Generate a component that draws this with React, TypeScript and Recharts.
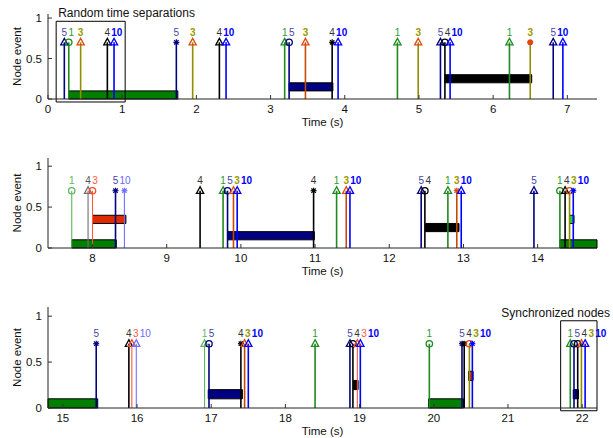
import React from "react";
import {
  ComposedChart,
  XAxis,
  YAxis,
  Scatter,
  ReferenceLine,
  ReferenceArea,
} from "recharts";

// [time, node, marker, tone]  tone: n normal, l light, w warm
type Ev = [number, number, string, string];
// [start, end, node, alt]
type Seg = [number, number, number, string?];

const p1Events: Ev[] = [
  [0.22, 5, "tri", "n"], [0.28, 1, "circ", "n"], [0.44, 3, "tri", "n"], [0.8, 4, "tri", "n"], [0.89, 10, "tri", "n"],
  [1.73, 5, "star", "n"], [1.95, 3, "tri", "n"], [2.31, 4, "tri", "n"], [2.4, 10, "tri", "n"],
  [3.19, 1, "tri", "n"], [3.25, 5, "circ", "n"], [3.47, 3, "tri", "w"], [3.83, 4, "star", "n"], [3.91, 10, "tri", "n"],
  [4.71, 1, "tri", "n"], [4.99, 3, "tri", "n"], [5.29, 5, "tri", "n"], [5.35, 4, "circ", "n"], [5.42, 10, "tri", "n"],
  [6.22, 1, "tri", "n"], [6.5, 3, "dot", "n"], [6.81, 5, "tri", "n"], [6.94, 10, "tri", "n"],
];

const p2Events: Ev[] = [
  [7.72, 1, "circ", "l"], [7.94, 4, "tri", "l"], [8.0, 3, "circ", "l"], [8.31, 5, "star", "n"], [8.43, 10, "star", "l"],
  [9.45, 4, "tri", "n"], [9.76, 1, "tri", "n"], [9.82, 5, "circ", "n"], [9.9, 3, "tri", "w"], [9.95, 10, "tri", "n"],
  [10.98, 4, "star", "n"], [11.29, 1, "tri", "n"], [11.42, 3, "tri", "w"], [11.47, 10, "tri", "n"],
  [12.43, 5, "tri", "n"], [12.48, 4, "circ", "n"], [12.79, 1, "tri", "n"], [12.91, 3, "star", "w"], [12.97, 10, "tri", "n"],
  [13.95, 5, "tri", "n"], [14.3, 1, "circ", "n"], [14.37, 4, "tri", "n"], [14.43, 3, "circ", "n"], [14.48, 10, "star", "n"],
];

const p3Events: Ev[] = [
  [15.45, 5, "star", "n"], [15.89, 4, "tri", "n"], [15.93, 3, "tri", "l"], [15.99, 10, "tri", "l"],
  [16.91, 1, "tri", "l"], [16.97, 5, "circ", "n"], [17.4, 4, "star", "n"], [17.45, 3, "tri", "w"], [17.5, 10, "tri", "n"],
  [18.4, 1, "tri", "n"], [18.87, 5, "tri", "n"], [18.91, 4, "circ", "n"], [18.97, 3, "tri", "l"], [19.01, 10, "tri", "n"],
  [19.94, 1, "circ", "n"], [20.38, 5, "star", "n"], [20.41, 4, "star", "n"], [20.48, 3, "circ", "n"], [20.52, 10, "star", "n"],
  [21.84, 1, "tri", "n"], [21.89, 5, "circ", "n"], [21.94, 4, "circ", "n"], [21.99, 3, "tri", "n"], [22.04, 10, "tri", "n"],
];

const p1Bars: Seg[] = [[0.28, 1.75, 1], [3.25, 3.84, 5], [5.35, 6.52, 4]];
const p2Bars: Seg[] = [
  [7.72, 8.32, 1], [8.0, 8.45, 3], [9.82, 10.99, 5], [12.49, 12.94, 4], [14.3, 14.8, 1], [14.43, 14.49, 3, "g"],
];
const p3Bars: Seg[] = [
  [14.8, 15.47, 1], [16.96, 17.42, 5], [18.92, 18.98, 4], [19.93, 20.4, 1], [20.47, 20.53, 3], [21.88, 21.95, 5],
];

const p1Ticks = [0, 1, 2, 3, 4, 5, 6, 7];
const p2Ticks = [8, 9, 10, 11, 12, 13, 14];
const p3Ticks = [15, 16, 17, 18, 19, 20, 21, 22];
const yTicks = [0, 0.5, 1];

const FONT = '"Liberation Sans", Arial, Helvetica, sans-serif';
const PLOT_W = 549;
const SPAN = 7.4;
const PX = PLOT_W / SPAN;

const barLevel: Record<number, number> = { 1: 0, 5: 1, 4: 2, 3: 3 };
const barColor: Record<number, string> = { 1: "#007f00", 5: "#000080", 4: "#000000", 3: "#e02a00" };

const stemColors: Record<number, Record<string, string>> = {
  1: { n: "#1f8a1f", l: "#5cb85c" },
  3: { n: "#8f8f00", w: "#c44a00", l: "#ff5a3c" },
  4: { n: "#000000", l: "#707070" },
  5: { n: "#000080", l: "#000080" },
  10: { n: "#0000ff", l: "#7070ff" },
};

function stemColor(node: number, tone: string) {
  const c = stemColors[node];
  return c[tone] || c.n;
}

function markColor(node: number, tone: string) {
  if (node === 3) return tone === "l" ? "#ff4a2a" : "#e0480e";
  return stemColor(node, tone);
}

function labelStyle(node: number, tone: string) {
  if (node === 1) return { fill: tone === "l" ? "#5cb85c" : "#2e9a2e", bold: false };
  if (node === 3) return tone === "l" ? { fill: "#ff5a3c", bold: false } : { fill: "#9a9a00", bold: true };
  if (node === 4) return { fill: tone === "l" ? "#555555" : "#333333", bold: false };
  if (node === 5) return { fill: "#4646a6", bold: false };
  return tone === "l" ? { fill: "#6a6aff", bold: false } : { fill: "#0000ff", bold: true };
}

// centre each label on its stem, pushing it right when it would overlap the previous one
function prepare(evs: Ev[]) {
  let prevRight = -Infinity;
  return evs.map(([t, node, mark, tone]) => {
    const w = node >= 10 ? 11 : 6;
    const c = t * PX;
    let left = c - w / 2;
    if (left < prevRight + 1) left = prevRight + 1;
    prevRight = left + w;
    return { t, y: 0.7, node, mark, tone, dx: left + w / 2 - c };
  });
}

const EventMark = (props: any) => {
  const { cx, cy, payload: e } = props;
  if (cx == null || cy == null) return null;
  const mc = markColor(e.node, e.tone);
  const sw = 1.3;
  let m: React.ReactNode = null;
  if (e.mark === "tri") {
    m = (
      <polygon
        points={`${cx},${cy - 4} ${cx - 3.6},${cy + 2.6} ${cx + 3.6},${cy + 2.6}`}
        fill="none"
        stroke={mc}
        strokeWidth={sw}
      />
    );
  } else if (e.mark === "circ") {
    m = <circle cx={cx} cy={cy} r={3.2} fill="none" stroke={mc} strokeWidth={sw} />;
  } else if (e.mark === "dot") {
    m = <circle cx={cx} cy={cy} r={2.6} fill={mc} stroke={mc} />;
  } else {
    const r = 3;
    const d = 2.2;
    m = (
      <g stroke={mc} strokeWidth={1.2}>
        <line x1={cx - r} y1={cy} x2={cx + r} y2={cy} />
        <line x1={cx} y1={cy - r} x2={cx} y2={cy + r} />
        <line x1={cx - d} y1={cy - d} x2={cx + d} y2={cy + d} />
        <line x1={cx - d} y1={cy + d} x2={cx + d} y2={cy - d} />
      </g>
    );
  }
  const ls = labelStyle(e.node, e.tone);
  return (
    <g>
      {m}
      <text
        x={cx + e.dx}
        y={cy - 6.5}
        textAnchor="middle"
        fontSize={10}
        fontFamily={FONT}
        fontWeight={ls.bold ? "bold" : "normal"}
        fill={ls.fill}
      >
        {e.node}
      </text>
    </g>
  );
};

const XTick = (props: any) => {
  const { x, y, payload } = props;
  return (
    <g>
      <line x1={x} x2={x} y1={y} y2={y - 4} stroke="#333" />
      <text x={x} y={y + 14} textAnchor="middle" fontSize={11.5} fontFamily={FONT} fill="#111">
        {payload.value}
      </text>
    </g>
  );
};

const YTick = (props: any) => {
  const { x, y, payload } = props;
  return (
    <g>
      <line x1={x} x2={x + 4} y1={y} y2={y} stroke="#333" />
      <text x={x - 6} y={y + 4} textAnchor="end" fontSize={11.5} fontFamily={FONT} fill="#111">
        {payload.value}
      </text>
    </g>
  );
};

interface Box {
  x1: number;
  x2: number;
  y1: number;
  y2: number;
  title: string;
  align: "left" | "right";
}

interface PanelProps {
  events: Ev[];
  bars: Seg[];
  domain: [number, number];
  yMax: number;
  ticks: number[];
  margin: { top: number; bottom: number };
  box?: Box;
}

function Panel({ events, bars, domain, yMax, ticks, margin, box }: PanelProps) {
  const data = prepare(events);
  return (
    <ComposedChart
      width={613}
      height={146}
      margin={{ top: margin.top, bottom: margin.bottom, left: 0, right: 16 }}
      style={{ display: "block" }}
    >
      <XAxis
        dataKey="t"
        type="number"
        domain={domain}
        ticks={ticks}
        interval={0}
        height={30}
        axisLine={{ stroke: "#222" }}
        tickLine={false}
        tickSize={0}
        tickMargin={0}
        tick={<XTick />}
        label={(p: any) => {
          const vb = p.viewBox;
          return (
            <text x={vb.x + vb.width / 2} y={vb.y + 27} textAnchor="middle" fontSize={11.5} fontFamily={FONT} fill="#111">
              Time (s)
            </text>
          );
        }}
      />
      <YAxis
        dataKey="y"
        type="number"
        domain={[0, yMax]}
        ticks={yTicks}
        interval={0}
        width={48}
        axisLine={{ stroke: "#222" }}
        tickLine={false}
        tickSize={0}
        tickMargin={0}
        tick={<YTick />}
        label={(p: any) => {
          const vb = p.viewBox;
          const cy = vb.y + vb.height / 2;
          return (
            <text
              x={21}
              y={cy}
              transform={`rotate(-90 21 ${cy})`}
              textAnchor="middle"
              fontSize={11.5}
              fontFamily={FONT}
              fill="#111"
            >
              Node event
            </text>
          );
        }}
      />
      {bars.map(([x1, x2, node, alt], i) => {
        const lvl = barLevel[node] * 0.1;
        return (
          <ReferenceArea
            key={`b${i}`}
            x1={x1}
            x2={x2}
            y1={lvl}
            y2={lvl + 0.1}
            fill={alt ? "#22dd22" : barColor[node]}
            fillOpacity={1}
            stroke="#000"
            strokeWidth={1}
            ifOverflow="visible"
          />
        );
      })}
      {box && (
        <ReferenceArea
          x1={box.x1}
          x2={box.x2}
          y1={box.y1}
          y2={box.y2}
          fill="none"
          fillOpacity={0}
          stroke="#000"
          strokeWidth={1}
          ifOverflow="visible"
          label={(p: any) => {
            const vb = p.viewBox;
            const isLeft = box.align === "left";
            return (
              <text
                x={isLeft ? vb.x + 2 : vb.x + vb.width + 13}
                y={vb.y - 4}
                textAnchor={isLeft ? "start" : "end"}
                fontSize={12}
                fontFamily={FONT}
                fill="#111"
              >
                {box.title}
              </text>
            );
          }}
        />
      )}
      {data.map((e, i) => (
        <ReferenceLine
          key={`s${i}`}
          segment={[
            { x: e.t, y: 0 },
            { x: e.t, y: 0.7 },
          ]}
          stroke={stemColor(e.node, e.tone)}
          strokeWidth={e.tone === "l" ? 1.1 : 1.6}
        />
      ))}
      <Scatter data={data} dataKey="y" shape={<EventMark />} isAnimationActive={false} />
    </ComposedChart>
  );
}

export default function App() {
  return (
    <div
      style={{
        position: "absolute",
        left: 0,
        top: 0,
        width: 613,
        height: 438,
        background: "#fff",
        fontFamily: FONT,
      }}
    >
      <Panel
        events={p1Events}
        bars={p1Bars}
        domain={[0, 7.4]}
        yMax={1.05}
        ticks={p1Ticks}
        margin={{ top: 14, bottom: 17 }}
        box={{ x1: 0.11, x2: 1.04, y1: -0.037, y2: 0.96, title: "Random time separations", align: "left" }}
      />
      <Panel
        events={p2Events}
        bars={p2Bars}
        domain={[7.4, 14.8]}
        yMax={1.1}
        ticks={p2Ticks}
        margin={{ top: 12, bottom: 14 }}
      />
      <Panel
        events={p3Events}
        bars={p3Bars}
        domain={[14.8, 22.2]}
        yMax={1.1}
        ticks={p3Ticks}
        margin={{ top: 15, bottom: 0 }}
        box={{ x1: 21.71, x2: 22.2, y1: -0.03, y2: 0.95, title: "Synchronized nodes", align: "right" }}
      />
    </div>
  );
}
